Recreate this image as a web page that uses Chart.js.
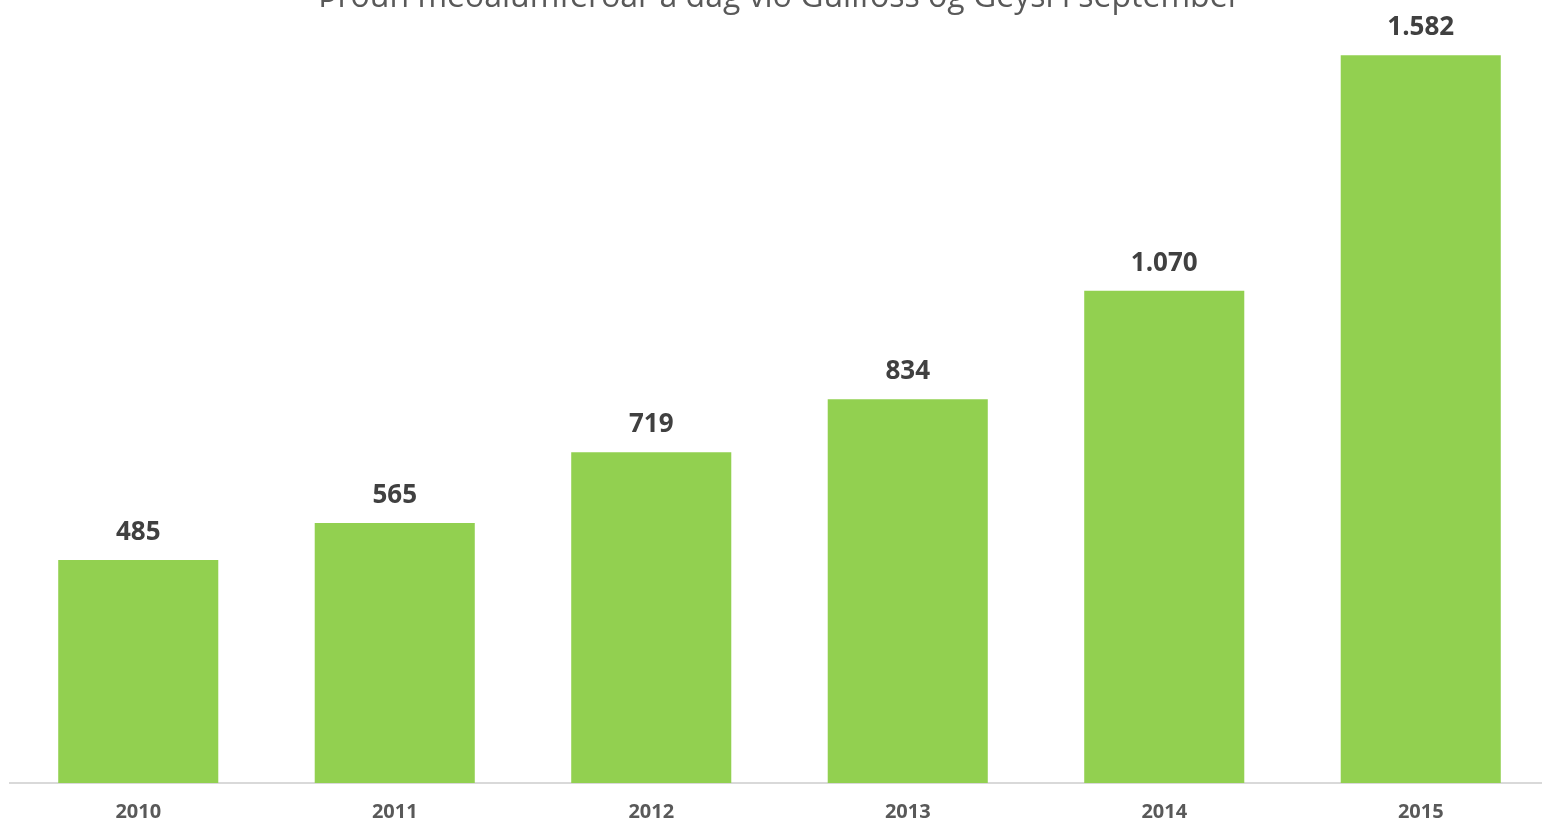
<!DOCTYPE html>
<html>
<head>
<meta charset="utf-8">
<script src="https://cdn.jsdelivr.net/npm/chart.js@4.4.0/dist/chart.umd.min.js"></script>
<style>
  html, body { margin: 0; padding: 0; background: #ffffff; overflow: hidden; width: 1542px; height: 825px; }
  #wrap { position: absolute; left: 0; top: -30px; width: 1552px; height: 872px; }
</style>
</head>
<body>
<div id="wrap"><canvas id="c" width="1552" height="872"></canvas></div>
<script>
const titleText = 'Þróun meðalumferðar á dag við Gullfoss og Geysi í september';
const categories = ['2010', '2011', '2012', '2013', '2014', '2015'];
const values = [485, 565, 719, 834, 1070, 1582];

function fmt(v) {
  return String(v).replace(/\B(?=(\d{3})+(?!\d))/g, '.');
}

const valueLabels = {
  id: 'valueLabels',
  afterDatasetsDraw(chart) {
    const ctx = chart.ctx;
    const meta = chart.getDatasetMeta(0);
    ctx.save();
    ctx.font = 'bold 26px "Open Sans"';
    ctx.fillStyle = '#404040';
    ctx.textAlign = 'center';
    ctx.textBaseline = 'alphabetic';
    meta.data.forEach((bar, i) => {
      ctx.fillText(fmt(chart.data.datasets[0].data[i]), bar.x, bar.y - 20);
    });
    ctx.restore();
  }
};

new Chart(document.getElementById('c'), {
  type: 'bar',
  data: {
    labels: categories,
    datasets: [{
      data: values,
      backgroundColor: '#92d050',
      borderWidth: 0,
      barPercentage: 0.624,
      categoryPercentage: 1.0
    }]
  },
  options: {
    responsive: false,
    devicePixelRatio: 1,
    animation: false,
    layout: { padding: { left: 10, right: 3, top: 0, bottom: 1 } },
    plugins: {
      legend: { display: false },
      tooltip: { enabled: false },
      title: {
        display: true,
        text: titleText,
        color: '#595959',
        font: { family: '"Open Sans"', size: 32, weight: 'normal', lineHeight: 1.2 },
        padding: { top: 9, bottom: 6.6 }
      }
    },
    scales: {
      x: {
        grid: { display: false, drawTicks: false },
        border: { display: true, color: '#d9d9d9', width: 2 },
        ticks: {
          color: '#595959',
          font: { family: '"Open Sans"', size: 20, weight: 'bold', lineHeight: 1.2 },
          padding: 17
        }
      },
      y: {
        display: false,
        min: 0,
        max: 1650
      }
    }
  },
  plugins: [valueLabels]
});
</script>
</body>
</html>
